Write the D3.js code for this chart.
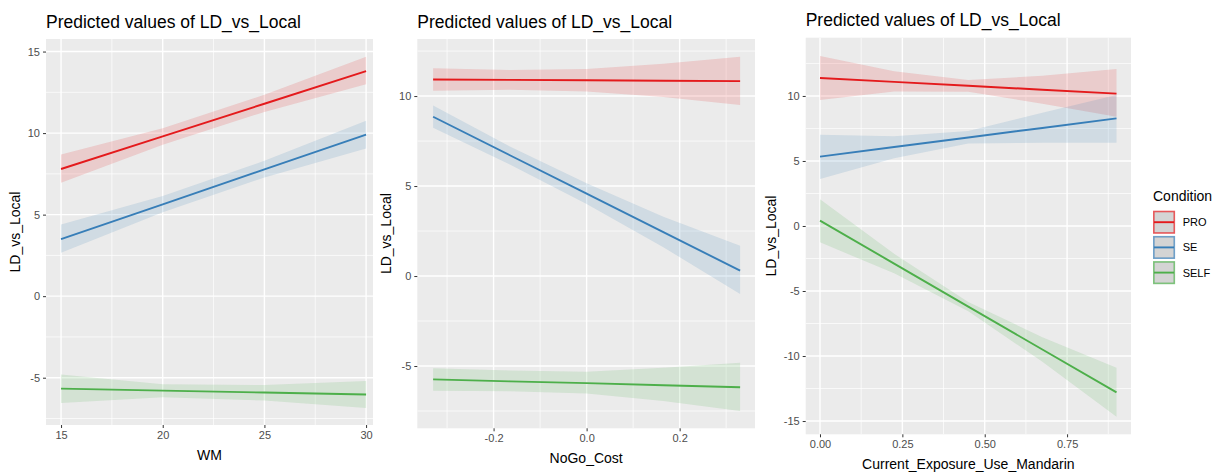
<!DOCTYPE html>
<html>
<head>
<meta charset="utf-8">
<script src="https://cdn.jsdelivr.net/npm/d3@7"></script>
<style>
  body { margin: 0; background: #fff; }
  svg { display: block; font-family: "Liberation Sans", Arial, sans-serif; }
</style>
</head>
<body>
<svg id="chart" width="1220" height="475"></svg>
<script>
// conditions and their colours (Set1)
var conditions = ["PRO", "SE", "SELF"];
var condColors = ["#E41A1C", "#377EB8", "#4DAF4A"];

// panel 1: WM
var wmX = [15, 20, 25, 30];
var wmFit = [[7.8, 9.8, 11.8, 13.8], [3.5, 5.63, 7.77, 9.9], [-5.67, -5.79, -5.91, -6.03]];
var wmLow = [[6.95, 9.28, 11.3, 13.0], [2.66, 5.15, 7.28, 9.06], [-6.55, -6.2, -6.4, -6.85]];
var wmHigh = [[8.68, 10.3, 12.35, 14.68], [4.4, 6.15, 8.3, 10.75], [-4.8, -5.4, -5.45, -5.2]];
var wmXTicks = [15, 20, 25, 30];
var wmYTicks = [-5, 0, 5, 10, 15];

// panel 2: NoGo_Cost
var nogoX = [-0.33, -0.165, 0, 0.165, 0.33];
var nogoFit = [[10.92, 10.9, 10.88, 10.85, 10.83], [8.85, 6.71, 4.58, 2.44, 0.3], [-5.74, -5.85, -5.95, -6.07, -6.18]];
var nogoLow = [[10.29, 10.35, 10.25, 9.95, 9.5], [8.24, 6.2, 4.0, 1.6, -1.0], [-6.37, -6.4, -6.52, -6.95, -7.5]];
var nogoHigh = [[11.54, 11.45, 11.5, 11.8, 12.18], [9.48, 7.2, 5.15, 3.3, 1.68], [-5.13, -5.25, -5.32, -5.1, -4.82]];
var nogoXTicks = [-0.2, 0, 0.2];
var nogoYTicks = [-5, 0, 5, 10];

// panel 3: Current_Exposure_Use_Mandarin
var expX = [0, 0.225, 0.45, 0.675, 0.9];
var expFit = [[11.38, 11.08, 10.78, 10.48, 10.18], [5.33, 6.07, 6.81, 7.54, 8.28], [0.41, -2.89, -6.2, -9.5, -12.8]];
var expLow = [[9.69, 10.35, 10.33, 9.4, 8.41], [3.62, 5.2, 6.35, 6.4, 6.41], [-1.26, -3.64, -6.55, -10.45, -14.67]];
var expHigh = [[13.08, 11.9, 11.23, 11.55, 12.08], [7.02, 6.9, 7.3, 8.7, 10.08], [2.05, -2.14, -5.85, -8.55, -10.9]];
var expXTicks = [0, 0.25, 0.5, 0.75];
var expYTicks = [-15, -10, -5, 0, 5, 10];

var minus = function (f) { return function (d) { return f(d).replace("\u2212", "-"); }; };

var panels = [
    { x: wmX, fit: wmFit, low: wmLow, high: wmHigh, xTicks: wmXTicks, yTicks: wmYTicks,
      xTitle: "WM", fmt: minus(d3.format("d")), yTitleGap: 26,
      left: 46, right: 373, top: 39, bottom: 425, xDom: [14.26, 30.34], yDom: [-7.9, 15.77], titleY: 27.5 },
    { x: nogoX, fit: nogoFit, low: nogoLow, high: nogoHigh, xTicks: nogoXTicks, yTicks: nogoYTicks,
      xTitle: "NoGo_Cost", fmt: minus(d3.format(".1f")), yTitleGap: 26,
      left: 417.3, right: 755, top: 39, bottom: 428.3, xDom: [-0.364, 0.362], yDom: [-8.46, 13.17], titleY: 27.5 },
    { x: expX, fit: expFit, low: expLow, high: expHigh, xTicks: expXTicks, yTicks: expYTicks,
      xTitle: "Current_Exposure_Use_Mandarin", fmt: minus(d3.format(".2f")), yTitleGap: 30,
      left: 805.7, right: 1131, top: 37.7, bottom: 434.3, xDom: [-0.0434, 0.944], yDom: [-16.02, 14.48], titleY: 26 }
];

var svg = d3.select("#chart");

function mids(ticks) {
    // minor grid lines sit halfway between the major breaks (and one step past each end)
    var step = ticks[1] - ticks[0], out = [];
    for (var i = -1; i < ticks.length; i++) out.push(ticks[0] + step * (i + 0.5));
    return out;
}

panels.forEach(function (p) {
    var x = d3.scaleLinear().domain(p.xDom).range([p.left, p.right]);
    var y = d3.scaleLinear().domain(p.yDom).range([p.bottom, p.top]);
    var g = svg.append("g");

    var clipId = "clip-" + Math.round(p.left);
    g.append("clipPath").attr("id", clipId)
      .append("rect")
        .attr("x", p.left).attr("y", p.top)
        .attr("width", p.right - p.left).attr("height", p.bottom - p.top);

    g.append("rect")
        .attr("x", p.left).attr("y", p.top)
        .attr("width", p.right - p.left).attr("height", p.bottom - p.top)
        .attr("fill", "#EBEBEB");

    var grid = g.append("g").attr("clip-path", "url(#" + clipId + ")");
    grid.selectAll("line.ymin").data(mids(p.yTicks)).enter().append("line")
        .attr("x1", p.left).attr("x2", p.right)
        .attr("y1", function (d) { return y(d); }).attr("y2", function (d) { return y(d); })
        .attr("stroke", "#fff").attr("stroke-width", 0.7);
    grid.selectAll("line.xmin").data(mids(p.xTicks)).enter().append("line")
        .attr("y1", p.top).attr("y2", p.bottom)
        .attr("x1", function (d) { return x(d); }).attr("x2", function (d) { return x(d); })
        .attr("stroke", "#fff").attr("stroke-width", 0.7);
    grid.selectAll("line.ymaj").data(p.yTicks).enter().append("line")
        .attr("x1", p.left).attr("x2", p.right)
        .attr("y1", function (d) { return y(d); }).attr("y2", function (d) { return y(d); })
        .attr("stroke", "#fff").attr("stroke-width", 1.4);
    grid.selectAll("line.xmaj").data(p.xTicks).enter().append("line")
        .attr("y1", p.top).attr("y2", p.bottom)
        .attr("x1", function (d) { return x(d); }).attr("x2", function (d) { return x(d); })
        .attr("stroke", "#fff").attr("stroke-width", 1.4);

    // confidence bands, then fitted lines
    conditions.forEach(function (c, ci) {
        var rows = p.x.map(function (xv, i) {
            return { x: xv, fit: p.fit[ci][i], low: p.low[ci][i], high: p.high[ci][i] };
        });
        g.append("path").datum(rows)
            .attr("fill", condColors[ci]).attr("fill-opacity", 0.15)
            .attr("d", d3.area()
                .x(function (d) { return x(d.x); })
                .y0(function (d) { return y(d.low); })
                .y1(function (d) { return y(d.high); }));
    });
    conditions.forEach(function (c, ci) {
        var rows = p.x.map(function (xv, i) { return { x: xv, fit: p.fit[ci][i] }; });
        g.append("path").datum(rows)
            .attr("fill", "none").attr("stroke", condColors[ci]).attr("stroke-width", 1.9)
            .attr("d", d3.line()
                .x(function (d) { return x(d.x); })
                .y(function (d) { return y(d.fit); }));
    });

    // axes
    var xAxis = d3.axisBottom(x).tickValues(p.xTicks).tickSize(3).tickPadding(3).tickFormat(p.fmt);
    var yAxis = d3.axisLeft(y).tickValues(p.yTicks).tickSize(3).tickPadding(3).tickFormat(minus(d3.format("d")));
    [g.append("g").attr("transform", "translate(0," + p.bottom + ")").call(xAxis),
     g.append("g").attr("transform", "translate(" + p.left + ",0)").call(yAxis)].forEach(function (a) {
        a.select(".domain").remove();
        a.selectAll(".tick line").attr("stroke", "#333").attr("stroke-width", 1);
        a.selectAll(".tick text").attr("fill", "#4D4D4D").style("font-size", "11px");
        a.attr("font-family", null);
    });

    g.append("text")
        .attr("x", p.left).attr("y", p.titleY)
        .style("font-size", "17.5px").attr("fill", "#000")
        .text("Predicted values of LD_vs_Local");

    g.append("text")
        .attr("x", (p.left + p.right) / 2).attr("y", p.bottom + 35)
        .attr("text-anchor", "middle")
        .style("font-size", "14px").attr("fill", "#000")
        .text(p.xTitle);

    var yc = (p.top + p.bottom) / 2;
    g.append("text")
        .attr("transform", "translate(" + (p.left - p.yTitleGap) + "," + yc + ") rotate(-90)")
        .attr("text-anchor", "middle")
        .style("font-size", "14px").attr("fill", "#000")
        .text("LD_vs_Local");
});

// legend
var legend = svg.append("g").attr("transform", "translate(1153,0)");
legend.append("text").attr("x", 0).attr("y", 200.7)
    .style("font-size", "14px").attr("fill", "#000").text("Condition");

var keys = legend.selectAll("g.key").data(conditions).enter().append("g")
    .attr("transform", function (d, i) { return "translate(0," + (210.7 + i * 25.2) + ")"; });
keys.append("rect")
    .attr("x", 0.8).attr("y", 0.8).attr("width", 20.5).attr("height", 21.5)
    .attr("fill", "#D4D4D4")
    .attr("stroke", function (d, i) { return condColors[i]; })
    .attr("stroke-opacity", 0.7).attr("stroke-width", 1.6);
keys.append("line")
    .attr("x1", 1).attr("x2", 21).attr("y1", 11.5).attr("y2", 11.5)
    .attr("stroke", function (d, i) { return condColors[i]; }).attr("stroke-width", 1.9);
keys.append("text")
    .attr("x", 29.7).attr("y", 15.5)
    .style("font-size", "11px").attr("fill", "#000")
    .text(function (d) { return d; });
</script>
</body>
</html>
